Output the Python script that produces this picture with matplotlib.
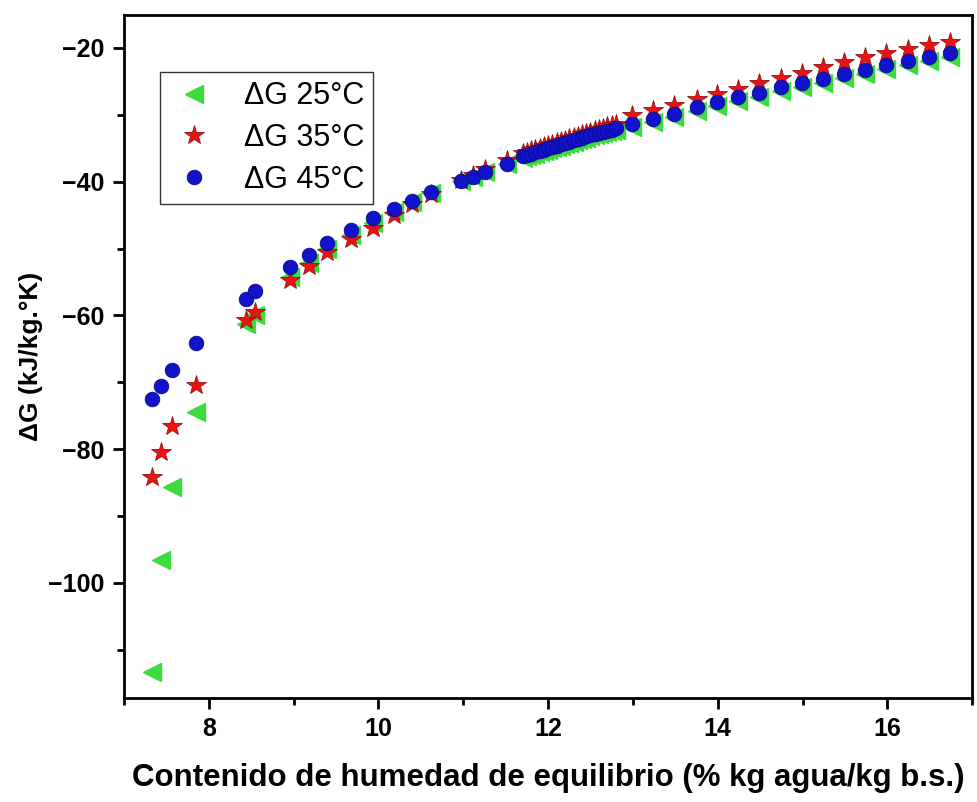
import matplotlib.pyplot as plt
from matplotlib.ticker import MultipleLocator

plt.rcParams['font.family'] = ['Liberation Sans', 'DejaVu Sans']

# Equilibrium moisture content (% kg water / kg d.b.)
x = [7.33, 7.43, 7.57, 7.85, 8.44, 8.54, 8.96, 9.18, 9.39, 9.67, 9.94, 10.18,
     10.40, 10.62, 10.97, 11.11, 11.26, 11.51,
     11.70, 11.75, 11.80, 11.85, 11.90, 11.95, 12.00, 12.05, 12.10, 12.15,
     12.20, 12.25, 12.30, 12.35, 12.40, 12.45, 12.50, 12.55, 12.60, 12.65,
     12.70, 12.75, 12.80,
     12.99, 13.24, 13.49, 13.75, 13.99, 14.24, 14.49, 14.75, 14.99, 15.24,
     15.49, 15.74, 15.98, 16.24, 16.49, 16.74]

dg25 = [-113.4, -96.6, -85.7, -74.4, -61.3, -60.0, -54.2, -52.1, -50.1, -48.0,
        -46.2, -44.5, -43.0, -41.7, -39.9, -39.3, -38.6, -37.3,
        -36.4, -36.2, -36.0, -35.8, -35.6, -35.4, -35.2, -35.0, -34.8, -34.6,
        -34.4, -34.2, -34.0, -33.8, -33.6, -33.4, -33.2, -33.0, -32.9, -32.7,
        -32.6, -32.4, -32.2,
        -31.8, -31.1, -30.3, -29.5, -28.7, -28.0, -27.3, -26.5, -25.9, -25.2,
        -24.5, -23.9, -23.2, -22.5, -22.0, -21.4]

dg35 = [-84.2, -80.5, -76.5, -70.4, -60.7, -59.5, -54.7, -52.6, -50.5, -48.5,
        -47.0, -45.0, -43.3, -41.8, -39.7, -39.0, -38.1, -36.8,
        -35.7, -35.5, -35.3, -35.1, -34.9, -34.7, -34.5, -34.3, -34.1, -33.9,
        -33.7, -33.5, -33.3, -33.1, -32.9, -32.7, -32.5, -32.3, -32.1, -31.9,
        -31.7, -31.5, -31.3,
        -30.0, -29.3, -28.5, -27.6, -26.9, -26.1, -25.3, -24.5, -23.7, -22.9,
        -22.1, -21.4, -20.8, -20.2, -19.6, -19.1]

dg45 = [-72.5, -70.6, -68.2, -64.2, -57.5, -56.3, -52.7, -50.9, -49.2, -47.2,
        -45.5, -44.1, -42.9, -41.6, -39.9, -39.3, -38.6, -37.3,
        -36.2, -36.0, -35.8, -35.6, -35.4, -35.2, -35.0, -34.8, -34.6, -34.4,
        -34.2, -34.0, -33.8, -33.6, -33.4, -33.2, -33.0, -32.8, -32.7, -32.5,
        -32.4, -32.2, -32.0,
        -31.4, -30.6, -29.8, -28.9, -28.1, -27.4, -26.7, -25.9, -25.3, -24.6,
        -23.9, -23.3, -22.6, -21.9, -21.4, -20.8]

labels = ['ΔG 25°C', 'ΔG 35°C', 'ΔG 45°C']

fig = plt.figure(figsize=(9.77, 8.02), dpi=100)
ax = fig.add_axes([0.127, 0.13, 0.868, 0.851])

ax.plot(x, dg25, ls='none', marker='<', ms=13.5, color='#3ddc3d',
        markeredgecolor='#3ddc3d', label=labels[0])
ax.plot(x, dg35, ls='none', marker='*', ms=15, color='#ee1111',
        markeredgecolor='#991111', markeredgewidth=0.6, label=labels[1])
ax.plot(x, dg45, ls='none', marker='o', ms=10.5, color='#1212cc',
        markeredgecolor='#0a0a88', markeredgewidth=0.6, label=labels[2])

ax.set_xlim(7.0, 17.0)
ax.set_ylim(-117.2, -15.1)
ax.xaxis.set_major_locator(MultipleLocator(2))
ax.xaxis.set_minor_locator(MultipleLocator(1))
ax.yaxis.set_major_locator(MultipleLocator(20))
ax.yaxis.set_minor_locator(MultipleLocator(10))

ax.tick_params(which='major', direction='out', length=8, width=2,
               labelsize=18, pad=6)
ax.tick_params(which='minor', direction='out', length=5, width=2)
for lbl in ax.get_xticklabels() + ax.get_yticklabels():
    lbl.set_fontweight('bold')
for sp in ax.spines.values():
    sp.set_linewidth(2)

ax.set_xlabel('Contenido de humedad de equilibrio (% kg agua/kg b.s.)',
              fontsize=22.5, fontweight='bold', labelpad=16)
ax.set_ylabel('ΔG (kJ/kg.°K)', fontsize=19, fontweight='bold', labelpad=4)

leg = ax.legend(loc='upper left', bbox_to_anchor=(0.042, 0.9165), fontsize=22,
                frameon=True, fancybox=False, edgecolor='black',
                borderaxespad=0, handletextpad=0.8, borderpad=0.3,
                labelspacing=0.38, handlelength=1.65)
leg.get_frame().set_linewidth(1.0)

fig.savefig('out.png', dpi=100)
